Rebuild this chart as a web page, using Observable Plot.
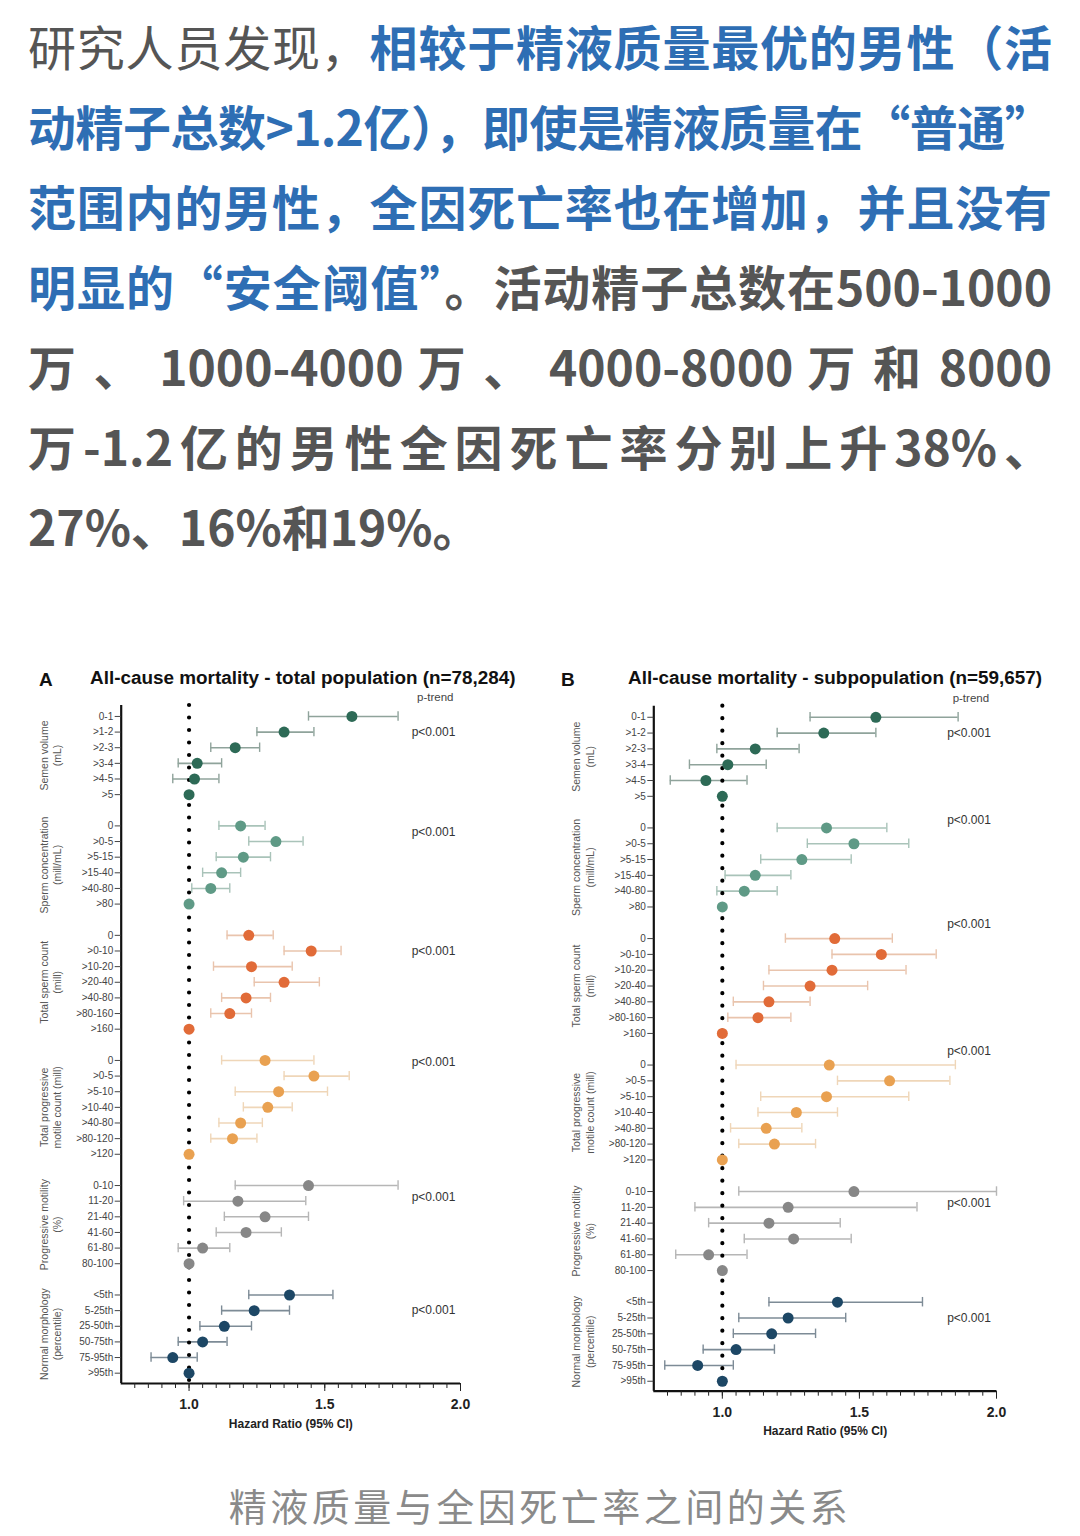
<!DOCTYPE html>
<html><head><meta charset="utf-8">
<script src="https://cdn.jsdelivr.net/npm/d3@7"></script>
<script src="https://cdn.jsdelivr.net/npm/@observablehq/plot@0.6"></script>
<style>
body{margin:0;background:#fff;width:1080px;height:1536px;position:relative;overflow:hidden;font-family:"Noto Sans CJK SC","Noto Sans",sans-serif;}
.para{position:absolute;left:28px;top:5px;width:1024px;font-size:48px;line-height:80px;color:#555;font-weight:700;}
.ln{text-align:justify;text-align-last:justify;}
.ln.last{text-align:left;text-align-last:left;}
.reg{font-weight:400;color:#555;}
.blue{color:#2e6eb4;}
.panel{position:absolute;top:660px;width:500px;height:780px;}
.lab{position:absolute;font-family:"Liberation Sans",Arial,sans-serif;font-weight:700;color:#111;line-height:20px;white-space:nowrap;}
.cap{position:absolute;left:0;width:1080px;top:1480px;text-align:center;font-size:38px;letter-spacing:3.5px;line-height:50px;color:#8a8a8a;}
</style></head>
<body>
<div class="para">
<div class="ln"><span class="reg">研究人员发现，</span><span class="blue">相较于精液质量最优的男性（活</span></div>
<div class="ln blue">动精子总数&gt;1.2亿），即使是精液质量在“普通”</div>
<div class="ln blue">范围内的男性，全因死亡率也在增加，并且没有</div>
<div class="ln"><span class="blue">明显的“安全阈值”</span>。活动精子总数在500-1000</div>
<div class="ln">万 、 1000-4000 万 、 4000-8000 万 和 8000</div>
<div class="ln">万-1.2亿的男性全因死亡率分别上升38%、</div>
<div class="ln last">27%、16%和19%。</div>
</div>

<div class="lab" style="left:39px;top:670px;font-size:19px;">A</div>
<div class="lab" style="left:90px;top:668px;font-size:18.9px;">All-cause mortality - total population (n=78,284)</div>
<div class="lab" style="left:561px;top:670px;font-size:19px;">B</div>
<div class="lab" style="left:628px;top:668px;font-size:18.9px;">All-cause mortality - subpopulation (n=59,657)</div>

<div id="pa" class="panel" style="left:30px;"></div>
<div id="pb" class="panel" style="left:560px;"></div>
<div class="cap">精液质量与全因死亡率之间的关系</div>

<script>
// fit each paragraph line on one row (compress slightly if needed)
document.querySelectorAll('.ln').forEach(el => {
  el.style.whiteSpace = 'nowrap'; el.style.display = 'inline-block';
  const w = el.getBoundingClientRect().width;
  el.style.whiteSpace = ''; el.style.display = '';
  if (w > 1022) {
    const n = el.textContent.length;
    el.style.letterSpacing = ((1022 - w) / n - 0.15) + 'px';
  }
});

// ---- categories ----
const groupNames = [
  "Semen volume\n(mL)",
  "Sperm concentration\n(mill/mL)",
  "Total sperm count\n(mill)",
  "Total progressive\nmotile count (mill)",
  "Progressive motility\n(%)",
  "Normal morphology\n(percentile)"
];
const catSemen = ["0-1", ">1-2", ">2-3", ">3-4", ">4-5", ">5"];
const catConc = ["0", ">0-5", ">5-15", ">15-40", ">40-80", ">80"];
const catCount = ["0", ">0-10", ">10-20", ">20-40", ">40-80", ">80-160", ">160"];
const catMotileCount = ["0", ">0-5", ">5-10", ">10-40", ">40-80", ">80-120", ">120"];
const catMotility = ["0-10", "11-20", "21-40", "41-60", "61-80", "80-100"];
const catMorph = ["<5th", "5-25th", "25-50th", "50-75th", "75-95th", ">95th"];
const categories = [catSemen, catConc, catCount, catMotileCount, catMotility, catMorph];

// ---- Panel A: total population ----
const hrA = [
  [1.60, 1.35, 1.17, 1.03, 1.02, 1.00],
  [1.19, 1.32, 1.20, 1.12, 1.08, 1.00],
  [1.22, 1.45, 1.23, 1.35, 1.21, 1.15, 1.00],
  [1.28, 1.46, 1.33, 1.29, 1.19, 1.16, 1.00],
  [1.44, 1.18, 1.28, 1.21, 1.05, 1.00],
  [1.37, 1.24, 1.13, 1.05, 0.94, 1.00]
];
const loA = [
  [1.44, 1.25, 1.08, 0.96, 0.94, null],
  [1.11, 1.22, 1.10, 1.05, 1.01, null],
  [1.14, 1.35, 1.09, 1.24, 1.12, 1.08, null],
  [1.12, 1.35, 1.17, 1.20, 1.11, 1.08, null],
  [1.17, 0.98, 1.13, 1.10, 0.96, null],
  [1.22, 1.12, 1.04, 0.96, 0.86, null]
];
const hiA = [
  [1.77, 1.46, 1.26, 1.12, 1.11, null],
  [1.28, 1.42, 1.30, 1.19, 1.15, null],
  [1.31, 1.56, 1.38, 1.48, 1.30, 1.23, null],
  [1.46, 1.59, 1.51, 1.38, 1.27, 1.25, null],
  [1.77, 1.43, 1.44, 1.34, 1.15, null],
  [1.53, 1.37, 1.23, 1.14, 1.03, null]
];

// ---- Panel B: subpopulation ----
const hrB = [
  [1.56, 1.37, 1.12, 1.02, 0.94, 1.00],
  [1.38, 1.48, 1.29, 1.12, 1.08, 1.00],
  [1.41, 1.58, 1.40, 1.32, 1.17, 1.13, 1.00],
  [1.39, 1.61, 1.38, 1.27, 1.16, 1.19, 1.00],
  [1.48, 1.24, 1.17, 1.26, 0.95, 1.00],
  [1.42, 1.24, 1.18, 1.05, 0.91, 1.00]
];
const loB = [
  [1.32, 1.20, 0.98, 0.88, 0.81, null],
  [1.20, 1.31, 1.14, 1.01, 0.98, null],
  [1.23, 1.40, 1.17, 1.15, 1.04, 1.02, null],
  [1.05, 1.42, 1.14, 1.13, 1.03, 1.06, null],
  [1.06, 0.90, 0.95, 1.08, 0.83, null],
  [1.17, 1.06, 1.04, 0.93, 0.79, null]
];
const hiB = [
  [1.86, 1.56, 1.28, 1.16, 1.09, null],
  [1.60, 1.68, 1.47, 1.25, 1.20, null],
  [1.62, 1.78, 1.67, 1.53, 1.32, 1.25, null],
  [1.85, 1.83, 1.68, 1.42, 1.29, 1.34, null],
  [2.00, 1.71, 1.43, 1.47, 1.09, null],
  [1.73, 1.45, 1.34, 1.19, 1.04, null]
];

// p-trend labels and the row (relative to each group's first row) they sit beside
const pText = ["p<0.001", "p<0.001", "p<0.001", "p<0.001", "p<0.001", "p<0.001"];
const pRowA = [1, 0.38, 1, 0.1, 0.73, 1];
const pRowB = [1, -0.5, -0.93, -0.85, 0.75, 1];

const pointColors = ["#2d6a56", "#5f9a86", "#e16b38", "#e9a151", "#878787", "#1d4765"];
const barColors = ["#8fa39b", "#a9c3b9", "#e9c4ad", "#efd6b8", "#b6b6b6", "#7d8b96"];

function panel(hr, lo, hi, pRel, m) {
  const rows = [], ticks = [], labels = new Map(), centers = [], pRows = [];
  let r = 0;
  categories.forEach((cats, gi) => {
    const start = r;
    cats.forEach((c, ci) => {
      rows.push({row: r, g: gi, hr: hr[gi][ci], lo: lo[gi][ci], hi: hi[gi][ci]});
      ticks.push(r); labels.set(r, c); r++;
    });
    centers.push({row: (start + r - 1) / 2, text: groupNames[gi]});
    pRows.push({row: start + pRel[gi], text: pText[gi]});
    r++;
  });
  const yTop = -0.7, yBot = m.yBot;
  const withCI = rows.filter(d => d.lo != null);
  const marks = [];
  categories.forEach((_, gi) => {
    const ci = withCI.filter(d => d.g === gi);
    marks.push(Plot.ruleY(ci, {y: "row", x1: "lo", x2: "hi", stroke: barColors[gi], strokeWidth: 1.6}));
    marks.push(Plot.ruleX(ci, {x: "lo", y1: d => d.row - 0.3, y2: d => d.row + 0.3, stroke: barColors[gi], strokeWidth: 1.4}));
    marks.push(Plot.ruleX(ci, {x: "hi", y1: d => d.row - 0.3, y2: d => d.row + 0.3, stroke: barColors[gi], strokeWidth: 1.4}));
  });
  marks.push(Plot.ruleX([1], {stroke: "#000", strokeWidth: 4.2, strokeDasharray: "0,12.5", strokeLinecap: "round"}));
  categories.forEach((_, gi) => {
    marks.push(Plot.dot(rows.filter(d => d.g === gi), {x: "hr", y: "row", r: 5.5, fill: pointColors[gi], stroke: "none"}));
  });
  // axes
  marks.push(Plot.ruleX([0.75], {stroke: "#111", strokeWidth: 2.2}));
  marks.push(Plot.ruleY([yBot], {stroke: "#111", strokeWidth: 2.2}));
  marks.push(Plot.axisY({ticks, tickFormat: i => labels.get(i), tickSize: 6, tickPadding: 2, fontSize: 10, color: "#444", anchor: "left", label: null}));
  marks.push(Plot.axisX({ticks: d3.range(16, 41).map(i => +(i * 0.05).toFixed(2)), tickFormat: () => "", tickSize: 5, color: "#222", anchor: "bottom", label: null}));
  marks.push(Plot.axisX({ticks: [1, 1.5, 2], tickFormat: d => d.toFixed(1), tickSize: 8, tickPadding: 8, fontSize: 14, fontWeight: "bold", color: "#222", anchor: "bottom", label: null}));
  marks.push(Plot.text(["Hazard Ratio (95% CI)"], {frameAnchor: "bottom", dy: 44, fontSize: 12, fontWeight: "bold", fill: "#222"}));
  // group labels
  marks.push(Plot.text(centers, {y: "row", text: "text", frameAnchor: "left", dx: -71, rotate: -90, textAnchor: "middle", lineAnchor: "middle", lineHeight: 1.25, fontSize: 10.5, fill: "#555"}));
  // p-trend
  marks.push(Plot.text(["p-trend"], {x: () => 1.84, y: () => -1.2, textAnchor: "start", fontSize: 11.5, fill: "#444"}));
  marks.push(Plot.text(pRows, {x: () => 1.82, y: "row", text: "text", textAnchor: "start", fontSize: 12, fill: "#333"}));
  return Plot.plot({
    width: 500, height: 780,
    marginLeft: m.left, marginRight: m.right, marginTop: m.top, marginBottom: m.bottom,
    x: {domain: [0.75, 2.0], axis: null},
    y: {domain: [yBot, yTop], axis: null},
    style: {fontFamily: "'Liberation Sans', Arial, sans-serif", background: "transparent", overflow: "visible"},
    marks
  });
}

document.getElementById("pa").append(panel(hrA, loA, hiA, pRowA, {left: 90.7, right: 70, top: 45, bottom: 57, yBot: 42.66}));
document.getElementById("pb").append(panel(hrB, loB, hiB, pRowB, {left: 93.3, right: 64, top: 45.7, bottom: 49.3, yBot: 42.63}));
</script>
</body></html>
